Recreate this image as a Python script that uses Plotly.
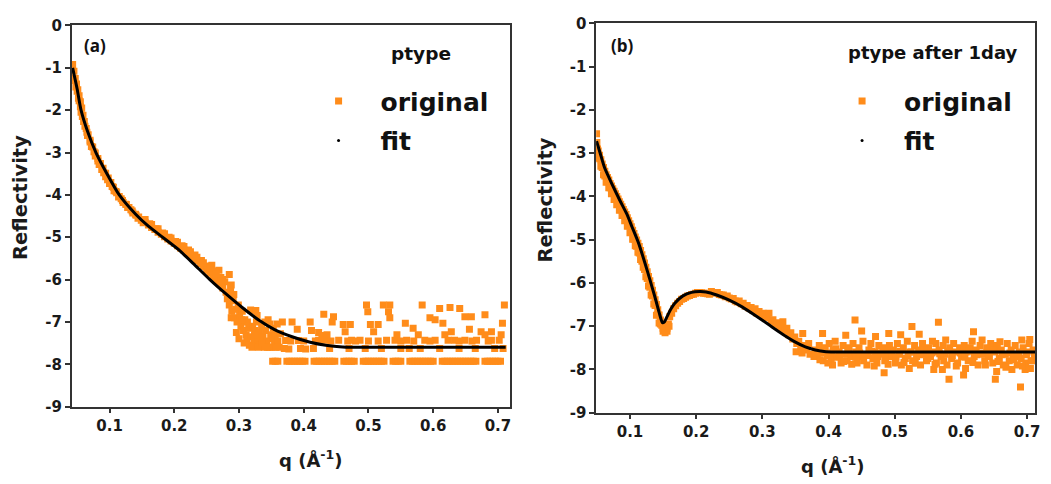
import plotly.graph_objects as go

ORANGE = "#FF8C1A"

# ---------------- Panel (a): ptype ----------------
qa_fit = [0.043, 0.05, 0.056, 0.066, 0.079, 0.096, 0.115, 0.14, 0.16, 0.182, 0.208, 0.23,
          0.255, 0.28, 0.305, 0.331, 0.355, 0.382, 0.41, 0.434, 0.46, 0.5, 0.6, 0.712]
ra_fit = [-1.0, -1.5, -2.0, -2.5, -3.0, -3.5, -4.0, -4.45, -4.74, -5.0, -5.31, -5.63,
          -6.0, -6.34, -6.66, -6.96, -7.18, -7.35, -7.48, -7.55, -7.59, -7.6, -7.6, -7.6]

qa_band = [0.043, 0.045, 0.047, 0.049, 0.051, 0.053, 0.055, 0.057, 0.059, 0.061, 0.064, 0.067,
           0.070, 0.074, 0.078, 0.082, 0.086, 0.090, 0.094, 0.098, 0.102, 0.106, 0.110, 0.115,
           0.120, 0.125, 0.130, 0.135, 0.140, 0.145, 0.150, 0.155, 0.160, 0.165, 0.170, 0.175,
           0.180, 0.185, 0.190, 0.195, 0.200, 0.205, 0.210, 0.215, 0.220, 0.225, 0.230, 0.235,
           0.240, 0.245, 0.250, 0.255, 0.260, 0.265, 0.270, 0.275, 0.280]
ra_band = [-0.92, -1.08, -1.25, -1.38, -1.52, -1.66, -1.8, -1.95, -2.12, -2.27, -2.43, -2.58,
           -2.71, -2.87, -3.01, -3.14, -3.26, -3.37, -3.49, -3.6, -3.71, -3.82, -3.92, -4.04,
           -4.13, -4.22, -4.3, -4.38, -4.46, -4.52, -4.59, -4.65, -4.71, -4.77, -4.82, -4.88,
           -4.93, -4.99, -5.04, -5.09, -5.14, -5.2, -5.26, -5.3, -5.37, -5.42, -5.5, -5.55,
           -5.62, -5.7, -5.78, -5.85, -5.95, -6.02, -6.1, -6.2, -6.3]

qa_band2 = [0.050, 0.053, 0.056, 0.060, 0.065, 0.070, 0.076, 0.082, 0.088, 0.094, 0.100, 0.107,
            0.114, 0.121, 0.128, 0.136, 0.144, 0.152, 0.162, 0.172, 0.182, 0.192, 0.202, 0.212,
            0.222, 0.232, 0.242, 0.252, 0.258, 0.262, 0.269, 0.272, 0.278, 0.285, 0.288]
ra_band2 = [-1.55, -1.78, -2.05, -2.27, -2.52, -2.75, -2.98, -3.2, -3.4, -3.57, -3.73, -3.9,
            -4.05, -4.18, -4.3, -4.43, -4.55, -4.66, -4.68, -4.8, -4.9, -5.0, -5.1, -5.2,
            -5.3, -5.42, -5.55, -5.68, -5.66, -5.8, -5.78, -5.95, -6.05, -5.88, -6.13]

qa_band3 = [0.046, 0.048, 0.052, 0.055, 0.058, 0.062, 0.066, 0.072, 0.078, 0.084, 0.091, 0.097,
            0.104, 0.111, 0.118, 0.126, 0.133, 0.141, 0.149,
            0.155, 0.165, 0.175, 0.185, 0.195, 0.205, 0.215, 0.225, 0.235, 0.245, 0.255, 0.265,
            0.275]
ra_band3 = [-1.3, -1.45, -1.72, -1.92, -2.15, -2.38, -2.6, -2.86, -3.08, -3.28, -3.48, -3.64,
            -3.8, -3.95, -4.09, -4.23, -4.35, -4.48, -4.6,
            -4.58, -4.7, -4.8, -4.92, -5.02, -5.12, -5.22, -5.34, -5.47, -5.6, -5.72, -5.86,
            -6.0]

qa_mid = [0.282, 0.285, 0.287, 0.289, 0.291, 0.293, 0.295, 0.297, 0.299, 0.301, 0.303, 0.305,
          0.307, 0.309, 0.311, 0.313, 0.315, 0.318, 0.319, 0.321, 0.323, 0.325, 0.326, 0.327,
          0.328, 0.329, 0.331, 0.333, 0.335, 0.337, 0.339, 0.341, 0.343, 0.345, 0.347, 0.349,
          0.351, 0.353, 0.355, 0.357, 0.359,
          0.284, 0.288, 0.292, 0.296, 0.300, 0.304, 0.308, 0.312, 0.316, 0.320, 0.324, 0.330,
          0.336, 0.340, 0.344, 0.348, 0.352, 0.356, 0.360, 0.362]
ra_mid = [-6.45, -6.6, -6.2, -6.75, -6.5, -6.9, -6.7, -7.0, -6.6, -6.85, -7.1, -6.75,
          -7.2, -6.95, -7.3, -7.0, -7.15, -6.72, -7.35, -7.1, -7.45, -7.2, -6.73, -7.0,
          -6.85, -7.4, -7.25, -7.55, -7.1, -7.35, -7.6, -7.2, -7.45, -6.95, -7.6, -7.3,
          -7.6, -7.15, -7.45, -7.6, -7.05,
          -6.35, -6.9, -6.35, -7.25, -7.4, -6.95, -7.5, -7.45, -7.55, -7.6, -7.3, -7.6,
          -7.5, -7.0, -7.6, -7.05, -7.4, -7.3, -7.45, -7.6]

qa_tail = [0.364, 0.367, 0.372, 0.377, 0.382, 0.390, 0.392, 0.403, 0.410, 0.412, 0.423, 0.423,
           0.428, 0.431, 0.433, 0.436, 0.444, 0.446, 0.454, 0.461, 0.464, 0.472, 0.474, 0.487,
           0.497, 0.499, 0.503, 0.508, 0.515, 0.523, 0.528, 0.531, 0.533, 0.533, 0.541, 0.544,
           0.557, 0.559, 0.563, 0.569, 0.577, 0.583, 0.587, 0.595, 0.603, 0.603, 0.610, 0.615,
           0.618, 0.623, 0.626, 0.628, 0.633, 0.641, 0.649, 0.649, 0.656, 0.659, 0.667, 0.674,
           0.680, 0.680, 0.690, 0.690, 0.702, 0.705, 0.707, 0.710,
           0.370, 0.395, 0.415, 0.440, 0.470, 0.495, 0.520, 0.550, 0.580, 0.610, 0.640, 0.665,
           0.695, 0.708,
           0.380, 0.400, 0.418, 0.442, 0.468, 0.480, 0.500, 0.515, 0.550, 0.570, 0.595, 0.640,
           0.660, 0.685]
ra_tail = [-7.28, -7.0, -7.44, -7.64, -7.0, -7.17, -7.44, -7.64, -7.0, -7.2, -7.25, -7.43,
           -7.32, -6.82, -7.43, -7.3, -7.0, -6.88, -7.43, -7.06, -7.23, -7.06, -7.43, -7.43,
           -6.6, -6.76, -7.06, -7.23, -7.06, -6.6, -7.43, -6.76, -6.6, -6.9, -7.43, -7.3,
           -7.03, -7.43, -7.63, -7.15, -7.3, -6.6, -7.43, -6.9, -6.95, -7.43, -6.68, -7.03,
           -7.3, -7.43, -6.66, -7.23, -7.43, -6.68, -6.88, -7.43, -7.17, -6.88, -7.43, -7.23,
           -6.83, -7.3, -7.23, -7.43, -7.43, -7.3, -7.03, -6.6,
           -7.63, -7.63, -7.63, -7.63, -7.63, -7.63, -7.63, -7.63, -7.63, -7.63, -7.63, -7.63,
           -7.63, -7.63,
           -7.45, -7.45, -7.45, -7.45, -7.45, -7.45, -7.45, -7.45, -7.45, -7.45, -7.45, -7.45,
           -7.45, -7.45]

qa_floor = [0.352, 0.356, 0.360, 0.374, 0.378, 0.382, 0.386, 0.390, 0.394, 0.398,
            0.402, 0.416, 0.420, 0.424, 0.428, 0.432, 0.436, 0.440, 0.444, 0.448,
            0.462, 0.466, 0.470, 0.474, 0.478, 0.492, 0.496, 0.500, 0.504, 0.508,
            0.512, 0.516, 0.520, 0.524, 0.538, 0.542, 0.546, 0.550, 0.564, 0.568,
            0.572, 0.576, 0.580, 0.584, 0.588, 0.592, 0.596, 0.600, 0.614, 0.618,
            0.622, 0.626, 0.630, 0.634, 0.638, 0.642, 0.646, 0.650, 0.654, 0.658,
            0.662, 0.666, 0.680, 0.684, 0.688, 0.692, 0.696, 0.700, 0.704]
ra_floor = [-7.93, -7.93, -7.93, -7.93, -7.93, -7.93, -7.93, -7.93, -7.93, -7.93,
            -7.93, -7.93, -7.93, -7.93, -7.93, -7.93, -7.93, -7.93, -7.93, -7.93,
            -7.93, -7.93, -7.93, -7.93, -7.93, -7.93, -7.93, -7.93, -7.93, -7.93,
            -7.93, -7.93, -7.93, -7.93, -7.93, -7.93, -7.93, -7.93, -7.93, -7.93,
            -7.93, -7.93, -7.93, -7.93, -7.93, -7.93, -7.93, -7.93, -7.93, -7.93,
            -7.93, -7.93, -7.93, -7.93, -7.93, -7.93, -7.93, -7.93, -7.93, -7.93,
            -7.93, -7.93, -7.93, -7.93, -7.93, -7.93, -7.93, -7.93, -7.93]

# ---------------- Panel (b): ptype after 1day ----------------
qb_fit = [0.0495, 0.055, 0.062, 0.073, 0.085, 0.095, 0.103, 0.113, 0.1226, 0.13, 0.1376, 0.144,
          0.149, 0.152, 0.156, 0.162, 0.1677, 0.18, 0.193, 0.205, 0.215, 0.231, 0.25, 0.27,
          0.29, 0.31, 0.33, 0.35, 0.365, 0.38, 0.396, 0.42, 0.5, 0.6, 0.712]
rb_fit = [-2.72, -3.0, -3.35, -3.72, -4.1, -4.4, -4.7, -5.08, -5.54, -5.92, -6.32, -6.68,
          -6.92, -6.9, -6.78, -6.6, -6.47, -6.3, -6.22, -6.2, -6.21, -6.28, -6.4, -6.56,
          -6.76, -6.97, -7.18, -7.37, -7.48, -7.55, -7.59, -7.6, -7.6, -7.6, -7.6]

qb_band = [0.0495, 0.050, 0.051, 0.052, 0.054, 0.056, 0.058, 0.060, 0.062, 0.064, 0.066, 0.068,
           0.070, 0.072, 0.074, 0.076, 0.078, 0.080, 0.082, 0.084, 0.086, 0.088, 0.090, 0.092,
           0.094, 0.096, 0.098, 0.100, 0.102, 0.104, 0.106, 0.108, 0.110, 0.112, 0.114, 0.116,
           0.118, 0.120, 0.122, 0.124, 0.126, 0.128, 0.130, 0.132, 0.134, 0.136, 0.138, 0.140,
           0.142, 0.144, 0.146, 0.148, 0.150, 0.152, 0.154, 0.156, 0.158]
rb_band = [-2.55, -2.75, -2.9, -2.95, -3.05, -3.15, -3.25, -3.33, -3.42, -3.5, -3.56, -3.62,
           -3.7, -3.76, -3.82, -3.88, -3.94, -4.0, -4.06, -4.12, -4.18, -4.24, -4.3, -4.36,
           -4.42, -4.49, -4.56, -4.63, -4.7, -4.78, -4.86, -4.94, -5.01, -5.08, -5.16, -5.25,
           -5.35, -5.44, -5.54, -5.64, -5.74, -5.85, -5.95, -6.06, -6.17, -6.28, -6.39, -6.5,
           -6.62, -6.74, -6.86, -6.98, -7.05, -7.1, -7.08, -7.05, -6.95]

qb_band2 = [0.050, 0.054, 0.058, 0.062, 0.066, 0.070, 0.074, 0.078, 0.082, 0.086, 0.090, 0.094,
            0.098, 0.102, 0.106, 0.110, 0.114, 0.118, 0.122, 0.126, 0.130, 0.134, 0.138, 0.142,
            0.146, 0.150, 0.153, 0.156, 0.159]
rb_band2 = [-2.95, -3.13, -3.33, -3.53, -3.66, -3.8, -3.93, -4.06, -4.18, -4.31, -4.43, -4.55,
            -4.68, -4.83, -4.99, -5.15, -5.31, -5.5, -5.69, -5.9, -6.1, -6.3, -6.52, -6.73,
            -6.95, -7.12, -7.15, -7.12, -7.0]

qb_band3 = [0.052, 0.056, 0.060, 0.064, 0.068, 0.072, 0.076, 0.080, 0.084, 0.088, 0.092, 0.096,
            0.100, 0.104, 0.108, 0.112, 0.116, 0.120, 0.124, 0.128, 0.132, 0.136, 0.140, 0.144]
rb_band3 = [-3.1, -3.3, -3.5, -3.67, -3.8, -3.94, -4.07, -4.19, -4.32, -4.44, -4.56, -4.69,
            -4.84, -4.99, -5.14, -5.29, -5.46, -5.64, -5.86, -6.07, -6.28, -6.49, -6.75, -6.93]

qb_bump = [0.160, 0.163, 0.166, 0.169, 0.172, 0.175, 0.178, 0.181, 0.184, 0.187, 0.190, 0.193,
           0.196, 0.199, 0.202, 0.205, 0.208, 0.211, 0.214, 0.217, 0.220,
           0.223, 0.226, 0.229, 0.232, 0.235, 0.238, 0.241, 0.244, 0.247, 0.250, 0.253, 0.256,
           0.259, 0.262, 0.265, 0.268, 0.271, 0.274, 0.277, 0.280, 0.283, 0.286, 0.289, 0.292,
           0.295, 0.298, 0.301, 0.304, 0.307, 0.310, 0.313, 0.316, 0.319, 0.322, 0.325, 0.328,
           0.331, 0.334, 0.337, 0.340, 0.343, 0.346, 0.349, 0.352, 0.355, 0.358, 0.361, 0.364,
           0.367, 0.370, 0.351, 0.360, 0.372, 0.378]
rb_bump = [-6.78, -6.7, -6.6, -6.53, -6.47, -6.43, -6.38, -6.36, -6.33, -6.3, -6.29, -6.27,
           -6.26, -6.24, -6.22, -6.22, -6.23, -6.24, -6.24, -6.25, -6.26,
           -6.2, -6.22, -6.24, -6.22, -6.27, -6.28, -6.28, -6.32, -6.3, -6.35, -6.37, -6.36,
           -6.42, -6.44, -6.42, -6.48, -6.47, -6.54, -6.52, -6.58, -6.57, -6.64, -6.6, -6.7,
           -6.66, -6.74, -6.7, -6.8, -6.78, -6.7, -6.88, -6.85, -6.95, -6.92, -7.0, -7.05,
           -6.9, -7.1, -7.05, -7.2, -7.15, -7.3, -7.25, -7.4, -7.35, -7.5, -7.17, -7.45,
           -7.55, -7.4, -7.59, -7.62, -7.65, -7.7]

qb_tail = [0.380, 0.383, 0.386, 0.389, 0.391, 0.392, 0.395, 0.398, 0.401, 0.404, 0.406, 0.407,
           0.410, 0.413, 0.416, 0.419, 0.422, 0.425, 0.426, 0.428, 0.431, 0.434, 0.437, 0.440,
           0.441, 0.443, 0.446, 0.449, 0.450, 0.452, 0.455, 0.458, 0.461, 0.464, 0.467, 0.470,
           0.471, 0.473, 0.476, 0.479, 0.482, 0.484, 0.485, 0.488, 0.491, 0.492, 0.495, 0.498,
           0.501, 0.504, 0.507, 0.509, 0.510, 0.513, 0.516, 0.519, 0.522, 0.523, 0.526, 0.527,
           0.530, 0.533, 0.536, 0.537, 0.539, 0.542, 0.545, 0.548, 0.551, 0.554, 0.557, 0.559,
           0.560, 0.562, 0.563, 0.566, 0.567, 0.570, 0.572, 0.573, 0.576, 0.577, 0.579, 0.582,
           0.583, 0.586, 0.589, 0.592, 0.595, 0.598, 0.601, 0.604, 0.605, 0.607, 0.608, 0.611,
           0.614, 0.617, 0.619, 0.620, 0.623, 0.626, 0.629, 0.632, 0.633, 0.636, 0.639, 0.642,
           0.645, 0.648, 0.651, 0.652, 0.654, 0.655, 0.658, 0.659, 0.661, 0.664, 0.667, 0.670,
           0.673, 0.676, 0.677, 0.679, 0.682, 0.685, 0.688, 0.690, 0.691, 0.692, 0.694, 0.697,
           0.698, 0.700, 0.703, 0.704, 0.706, 0.709, 0.711]
rb_tail = [-7.55, -7.7, -7.45, -7.62, -7.17, -7.8, -7.5, -7.68, -7.4, -7.75, -7.9, -7.55,
           -7.35, -7.72, -7.6, -7.85, -7.45, -7.65, -7.21, -7.8, -7.5, -7.7, -7.4, -6.86,
           -7.6, -7.85, -7.5, -7.7, -7.11, -7.35, -7.65, -7.9, -7.55, -7.4, -7.75, -7.6,
           -7.24, -7.85, -7.45, -7.65, -7.5, -8.08, -7.8, -7.6, -7.17, -7.45, -7.7, -7.55,
           -7.85, -7.4, -7.65, -7.2, -7.9, -7.5, -7.75, -7.35, -7.98, -7.6, -7.01, -7.8,
           -7.45, -7.7, -7.55, -7.19, -7.9, -7.4, -7.65, -7.8, -7.5, -7.7, -7.35, -8.0,
           -7.6, -7.4, -7.85, -6.91, -7.55, -7.7, -8.0, -7.45, -7.65, -7.32, -7.9, -8.23,
           -7.5, -7.75, -7.4, -7.6, -7.85, -7.5, -7.7, -8.13, -7.45, -7.98, -7.6, -7.8,
           -7.5, -7.35, -7.13, -7.7, -7.55, -7.9, -7.45, -7.32, -7.65, -7.8, -7.5, -7.7,
           -7.4, -7.85, -7.6, -8.23, -8.05, -7.45, -7.75, -7.36, -7.55, -7.9, -7.65, -7.4,
           -7.8, -7.55, -8.0, -7.7, -7.45, -7.9, -7.6, -8.41, -7.75, -7.32, -7.5, -8.0,
           -7.85, -7.6, -7.4, -7.31, -7.8, -7.55, -7.7]

qb_tail2 = [0.381, 0.387, 0.393, 0.399, 0.405, 0.411, 0.417, 0.423, 0.429, 0.435, 0.441, 0.447,
            0.453, 0.459, 0.465, 0.469, 0.474, 0.480, 0.486, 0.490, 0.496, 0.502, 0.508, 0.514,
            0.520, 0.525, 0.531, 0.538, 0.544, 0.550, 0.556, 0.561, 0.568, 0.574, 0.580, 0.587,
            0.593, 0.599, 0.606, 0.612, 0.618, 0.624, 0.630, 0.637, 0.643, 0.649, 0.656, 0.662,
            0.668, 0.674, 0.680, 0.686, 0.693, 0.699, 0.705, 0.710]
rb_tail2 = [-7.62, -7.78, -7.58, -7.85, -7.62, -7.52, -7.7, -7.82, -7.6, -7.88, -7.72, -7.62,
            -7.8, -7.68, -7.58, -7.92, -7.7, -7.62, -7.74, -7.88, -7.62, -7.72, -7.58, -7.84,
            -7.68, -7.6, -7.86, -7.66, -7.55, -7.75, -7.62, -7.88, -7.64, -7.8, -7.58, -7.68,
            -7.92, -7.62, -7.72, -7.58, -7.84, -7.66, -7.62, -7.9, -7.7, -7.56, -7.82, -7.66,
            -7.95, -7.62, -7.78, -7.7, -7.92, -7.66, -7.98, -7.8]

y_ticks = [0, -1, -2, -3, -4, -5, -6, -7, -8, -9]
y_tick_labels = ["0", "-1", "-2", "-3", "-4", "-5", "-6", "-7", "-8", "-9"]
x_ticks = [0.1, 0.2, 0.3, 0.4, 0.5, 0.6, 0.7]
x_tick_labels = ["0.1", "0.2", "0.3", "0.4", "0.5", "0.6", "0.7"]

W, H = 1051, 484
YS = 0.965  # vertical correction observed in the renderer


def px(x):
    return x / W


def py(y):
    return 1 - (H / 2 + (y - H / 2) / YS) / H


fig = go.Figure()

qa_orig = qa_band + qa_band2 + qa_band3 + qa_mid + qa_tail + qa_floor
ra_orig = ra_band + ra_band2 + ra_band3 + ra_mid + ra_tail + ra_floor
qb_orig = qb_band + qb_band2 + qb_band3 + qb_bump + qb_tail + qb_tail2
rb_orig = rb_band + rb_band2 + rb_band3 + rb_bump + rb_tail + rb_tail2

msize = 7
for (qo, ro, qf, rf, xa, ya, lg) in [
    (qa_orig, ra_orig, qa_fit, ra_fit, "x", "y", "legend"),
    (qb_orig, rb_orig, qb_fit, rb_fit, "x2", "y2", "legend2"),
]:
    fig.add_trace(go.Scatter(x=qo, y=ro, mode="markers", name="original",
                             marker=dict(symbol="square", size=msize, color=ORANGE, line=dict(width=0)),
                             xaxis=xa, yaxis=ya, legend=lg, legendgroup="o" + lg))
    fig.add_trace(go.Scatter(x=qf, y=rf, mode="lines", name="fit", showlegend=False,
                             line=dict(color="black", width=3, shape="spline", smoothing=0.6),
                             xaxis=xa, yaxis=ya))
    fig.add_trace(go.Scatter(x=[None], y=[None], mode="markers", name="fit",
                             marker=dict(size=3, color="black"),
                             xaxis=xa, yaxis=ya, legend=lg, legendgroup="f" + lg))

tickfont = dict(family="DejaVu Sans", size=15, color="#1a1a1a", weight="bold")
axis_common = dict(showline=True, mirror=True, linecolor="#333", linewidth=1.5,
                   ticks="outside", ticklen=5, tickwidth=1.5, tickcolor="#333",
                   showgrid=False, zeroline=False, tickfont=tickfont)

legend_font = dict(family="DejaVu Sans", size=25, color="#111", weight="bold")
fig.update_layout(
    width=W, height=H, margin=dict(l=0, r=0, t=0, b=0),
    paper_bgcolor="white", plot_bgcolor="white",
    xaxis=dict(domain=[px(72), px(512)], range=[0.0415, 0.718], anchor="y",
               tickvals=x_ticks, ticktext=x_tick_labels, **axis_common),
    yaxis=dict(domain=[py(407), py(25)], range=[-9, 0], anchor="x",
               tickvals=y_ticks, ticktext=y_tick_labels, **axis_common),
    xaxis2=dict(domain=[px(599), px(1040)], range=[0.0489, 0.712], anchor="y2",
                tickvals=x_ticks, ticktext=x_tick_labels, **axis_common),
    yaxis2=dict(domain=[py(413), py(23)], range=[-9, 0], anchor="x2",
                tickvals=y_ticks, ticktext=y_tick_labels, **axis_common),
    legend=dict(x=px(298), y=py(78), xanchor="left", yanchor="top", itemwidth=74,
                font=legend_font, bgcolor="rgba(0,0,0,0)", tracegroupgap=4, itemsizing="trace"),
    legend2=dict(x=px(824), y=py(78), xanchor="left", yanchor="top", itemwidth=74,
                 font=legend_font, bgcolor="rgba(0,0,0,0)", tracegroupgap=4, itemsizing="trace"),
    showlegend=True,
)

title_font = dict(family="DejaVu Sans", size=19.5, color="#1a1a1a", weight="bold")
ann = [
    dict(text="Reflectivity", x=px(20), y=py(197), textangle=-90, font=title_font),
    dict(text="Reflectivity", x=px(548), y=py(200), textangle=-90, font=title_font),
    dict(text="q (Å<sup>-1</sup>)", x=px(312), y=py(459), font=dict(title_font, size=18)),
    dict(text="q (Å<sup>-1</sup>)", x=px(837), y=py(466), font=dict(title_font, size=18)),
    dict(text="(a)", x=px(95), y=py(45), font=dict(family="Open Sans", size=17, color="#111", weight="bold")),
    dict(text="(b)", x=px(625), y=py(45), font=dict(family="Open Sans", size=17, color="#111", weight="bold")),
    dict(text="ptype", x=px(423), y=py(53), font=dict(family="DejaVu Sans", size=18.5, color="#111", weight="bold")),
    dict(text="ptype after 1day", x=px(937), y=py(52), font=dict(family="DejaVu Sans", size=18, color="#111", weight="bold")),
]
for a in ann:
    fig.add_annotation(xref="paper", yref="paper", showarrow=False, xanchor="center", yanchor="middle", **a)

fig.write_html("out.html", config={"displayModeBar": False},
               post_script="document.body.style.margin='0px';document.body.style.overflow='hidden';")
